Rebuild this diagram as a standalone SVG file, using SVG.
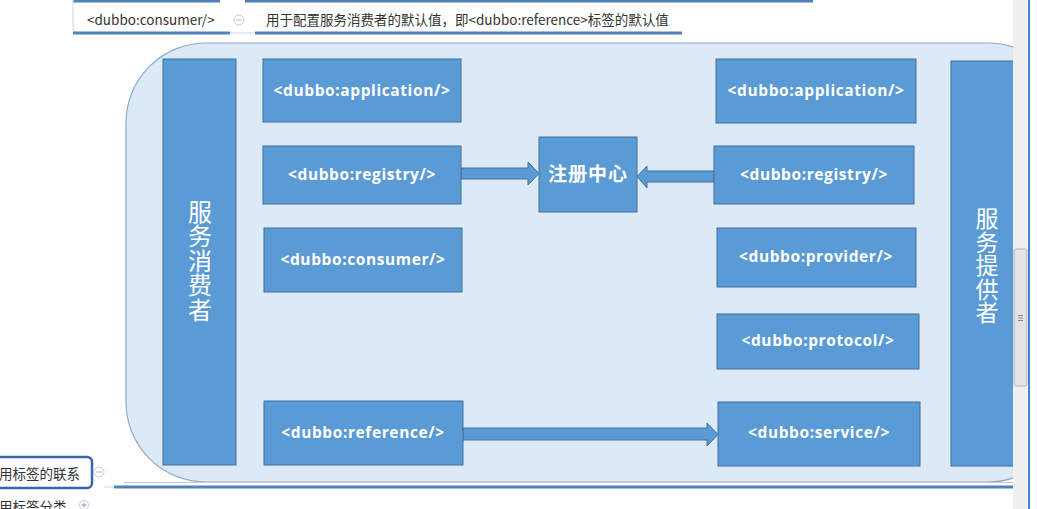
<svg xmlns="http://www.w3.org/2000/svg" width="1037" height="509" viewBox="0 0 1037 509">
<defs>
<style>
.node{fill:#5b9bd5;stroke:#41719c;stroke-width:1}
.lbl{fill:#fff;font-family:"Open Sans","Liberation Sans",sans-serif;font-weight:700;font-size:15.5px;letter-spacing:0.6px;text-anchor:middle}
.cjkv{fill:#fff;font-family:"Noto Sans CJK SC",sans-serif;font-size:24px;text-anchor:middle;writing-mode:vertical-rl;letter-spacing:0.5px}
.cjkc{fill:#fff;font-family:"Noto Sans CJK SC",sans-serif;font-weight:700;font-size:19px;text-anchor:middle;letter-spacing:1px}
.mm{fill:#333;font-family:"Noto Sans CJK SC",sans-serif;font-size:13.5px}
.arrow{fill:#5b9bd5;stroke:#41719c;stroke-width:1}
.blue{stroke:#4f81bd;stroke-width:3;fill:none}
.toggle{fill:#fff;stroke:#c3cfe0;stroke-width:1}
</style>
<clipPath id="view"><rect x="0" y="0" width="1013" height="509"/></clipPath>
</defs>
<rect x="0" y="0" width="1037" height="509" fill="#fff"/>

<g id="mindmap-top">
<line x1="73" y1="1" x2="220" y2="1" class="blue"/>
<line x1="245" y1="1" x2="813" y2="1" class="blue"/>
<path d="M73 0 V28 Q73 33 79 33" fill="none" stroke="#c9d7ea" stroke-width="1"/>
<line x1="73" y1="33" x2="230" y2="33" class="blue"/>
<line x1="230" y1="33" x2="255" y2="33" stroke="#dbe4f0" stroke-width="1.5"/>
<line x1="255" y1="33" x2="682" y2="33" class="blue"/>
<text x="87" y="25" class="mm">&lt;dubbo:consumer/&gt;</text>
<circle cx="239" cy="20" r="5" class="toggle"/>
<line x1="236" y1="20" x2="242" y2="20" stroke="#b0bdd0" stroke-width="1"/>
<text x="266" y="25" class="mm">用于配置服务消费者的默认值，即&lt;dubbo:reference&gt;标签的默认值</text>
</g>

<g id="panel" clip-path="url(#view)">
<rect x="126" y="43" width="942" height="439" rx="80" ry="80" fill="#dce9f6" stroke="#8eaacb" stroke-width="1.2"/>
</g>

<g id="mindmap-bottom">
<line x1="124" y1="482.5" x2="1013" y2="482.5" stroke="#c8c8c8" stroke-width="1"/>
<line x1="104" y1="487" x2="114" y2="487" stroke="#dbe4f0" stroke-width="1.5"/>
<line x1="114" y1="487" x2="1013" y2="487" class="blue"/>
<rect x="-6" y="457" width="98" height="31" rx="5" fill="#fff" stroke="#3a64b0" stroke-width="2.5"/>
<text x="-1" y="479" class="mm">用标签的联系</text>
<circle cx="99" cy="472" r="5" class="toggle"/>
<line x1="96" y1="472" x2="102" y2="472" stroke="#b0bdd0" stroke-width="1"/>
<text x="-1" y="512" class="mm">用标签分类</text>
<circle cx="84" cy="505" r="4.5" class="toggle"/>
<line x1="81.5" y1="505" x2="86.5" y2="505" stroke="#8a9ab0" stroke-width="1"/>
<line x1="84" y1="502.5" x2="84" y2="507.5" stroke="#8a9ab0" stroke-width="1"/>
</g>

<g id="scrollbar">
<rect x="1013" y="0" width="14" height="509" fill="#f0f0f0"/>
<rect x="1014" y="249" width="13" height="137" rx="2" fill="#e4e4e4" stroke="#b5b5b5" stroke-width="1"/>
<line x1="1018" y1="315.5" x2="1023" y2="315.5" stroke="#888" stroke-width="1"/>
<line x1="1018" y1="318" x2="1023" y2="318" stroke="#888" stroke-width="1"/>
<line x1="1018" y1="320.5" x2="1023" y2="320.5" stroke="#888" stroke-width="1"/>
<rect x="1028" y="0" width="2" height="509" fill="#3c86cf"/>
</g>

<g id="connectors">
<path class="arrow" d="M461 168 H528 V162 L539 173.5 L528 185 V179 H461 Z"/>
<path class="arrow" d="M714 171 H647 V166 L637 176.5 L647 188 V182 H714 Z"/>
<path class="arrow" d="M463 428 H707 V423 L718 434.5 L707 446 V440 H463 Z"/>
</g>

<g id="service-consumer">
<rect class="node" x="163" y="59" width="73" height="406"/>
<text class="cjkv" x="200" y="261">服务消费者</text>
</g>

<g id="service-provider" clip-path="url(#view)">
<rect class="node" x="951" y="61" width="80" height="405"/>
<text class="cjkv" x="987" y="266" style="font-size:23px">服务提供者</text>
</g>

<g id="c-application">
<rect class="node" x="263" y="59" width="198" height="63"/>
<text class="lbl" x="362" y="96">&lt;dubbo:application/&gt;</text>
</g>
<g id="c-registry">
<rect class="node" x="263" y="146" width="198" height="58"/>
<text class="lbl" x="362" y="180">&lt;dubbo:registry/&gt;</text>
</g>
<g id="c-consumer">
<rect class="node" x="264" y="228" width="198" height="64"/>
<text class="lbl" x="363" y="265">&lt;dubbo:consumer/&gt;</text>
</g>
<g id="c-reference">
<rect class="node" x="264" y="401" width="199" height="64"/>
<text class="lbl" x="363" y="438">&lt;dubbo:reference/&gt;</text>
</g>

<g id="registry-center">
<rect class="node" x="539" y="137" width="98" height="75"/>
<text class="cjkc" x="588" y="181">注册中心</text>
</g>

<g id="p-application">
<rect class="node" x="716" y="59" width="200" height="64"/>
<text class="lbl" x="816" y="96">&lt;dubbo:application/&gt;</text>
</g>
<g id="p-registry">
<rect class="node" x="714" y="146" width="200" height="58"/>
<text class="lbl" x="814" y="180">&lt;dubbo:registry/&gt;</text>
</g>
<g id="p-provider">
<rect class="node" x="717" y="228" width="199" height="59"/>
<text class="lbl" x="816" y="262">&lt;dubbo:provider/&gt;</text>
</g>
<g id="p-protocol">
<rect class="node" x="717" y="314" width="202" height="55"/>
<text class="lbl" x="818" y="346">&lt;dubbo:protocol/&gt;</text>
</g>
<g id="p-service">
<rect class="node" x="718" y="402" width="202" height="64"/>
<text class="lbl" x="819" y="438">&lt;dubbo:service/&gt;</text>
</g>
</svg>
